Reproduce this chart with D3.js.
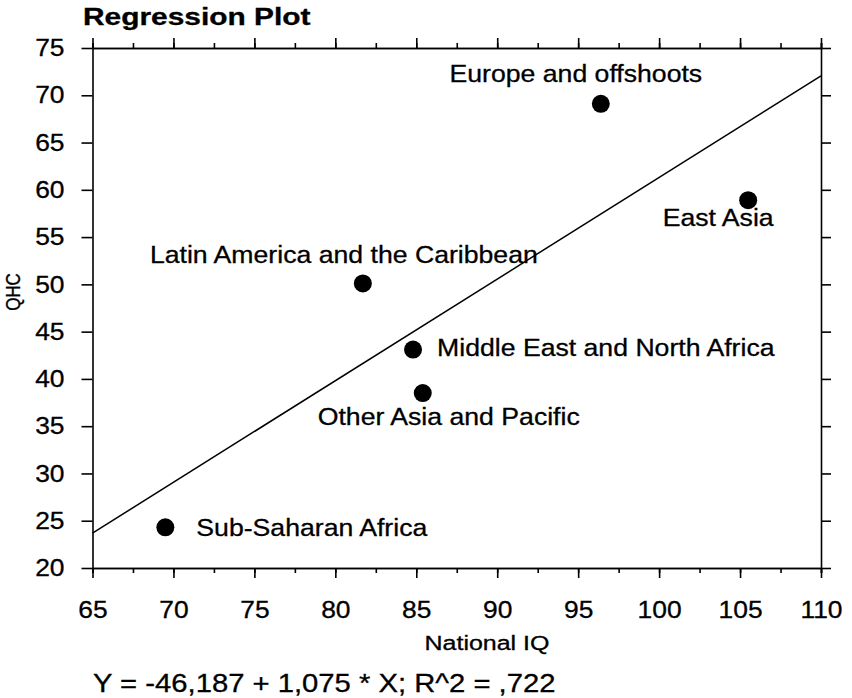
<!DOCTYPE html>
<html>
<head>
<meta charset="utf-8">
<script src="https://cdn.jsdelivr.net/npm/d3@7"></script>
<style>
  body { margin: 0; background: #fff; }
  svg text { font-family: "Liberation Sans", Arial, sans-serif; fill: #000; stroke: #000; stroke-width: 0.3px; }
</style>
</head>
<body>
<div id="chart"></div>
<script>
// data
const regions = ["Europe and offshoots", "East Asia", "Latin America and the Caribbean",
                 "Middle East and North Africa", "Other Asia and Pacific", "Sub-Saharan Africa"];
const nationalIQ = [96.4, 105.5, 81.7, 84.8, 85.4, 69.5];
const qhc = [69.1, 58.9, 50.1, 43.1, 38.5, 24.3];
const intercept = -46.187;
const slope = 1.075;
const equation = "Y = -46,187 + 1,075 * X; R^2 = ,722";
const xTicks = [65, 70, 75, 80, 85, 90, 95, 100, 105, 110];
const yTicks = [20, 25, 30, 35, 40, 45, 50, 55, 60, 65, 70, 75];

// label placement around each dot (layout only)
const labelPlace = [
    {dx: -25, dy: -22, anchor: "middle"},
    {dx: -30, dy: 26, anchor: "middle"},
    {dx: -19, dy: -20, anchor: "middle"},
    {dx: 24, dy: 6, anchor: "start"},
    {dx: 26, dy: 32, anchor: "middle"},
    {dx: 31, dy: 9, anchor: "start"}
];

const margin = {top: 48, right: 31, bottom: 130, left: 92.5};
const W = 852, H = 698;
const width = W - margin.left - margin.right;
const height = H - margin.top - margin.bottom;

const svg = d3.select("#chart").append("svg")
    .attr("width", W)
    .attr("height", H);

const g = svg.append("g")
    .attr("transform", "translate(" + margin.left + "," + margin.top + ")");

const x = d3.scaleLinear().domain([65, 110]).range([0, width]);
const y = d3.scaleLinear().domain([20, 75]).range([height, 0]);

// stretch text horizontally around its own x
function stretch(sel, sx) {
    sel.each(function () {
        let x0 = +d3.select(this).attr("x") || 0;
        d3.select(this).attr("transform", "translate(" + (x0 * (1 - sx)) + ",0) scale(" + sx + ",1)");
    });
}

const minorX = d3.range(65, 110.01, 2.5);

// bottom axis
g.append("g")
    .attr("transform", "translate(0," + height + ")")
    .call(d3.axisBottom(x).tickValues(minorX).tickSize(5).tickFormat(""));
const xAx = g.append("g")
    .attr("class", "x-axis")
    .attr("transform", "translate(0," + height + ")")
    .call(d3.axisBottom(x).tickValues(xTicks).tickSize(10).tickPadding(23).tickSizeOuter(0));

// top axis
g.append("g")
    .call(d3.axisTop(x).tickValues(minorX).tickSize(5).tickFormat(""));
g.append("g")
    .call(d3.axisTop(x).tickValues(xTicks).tickSize(10).tickFormat("").tickSizeOuter(0));

// left axis
const yAx = g.append("g")
    .attr("class", "y-axis")
    .call(d3.axisLeft(y).tickValues(yTicks).tickSize(11).tickPadding(17).tickSizeOuter(0));

// right axis
g.append("g")
    .attr("transform", "translate(" + width + ",0)")
    .call(d3.axisRight(y).tickValues(yTicks).tickSize(10).tickFormat("").tickSizeOuter(0));

g.selectAll(".domain").attr("stroke", "#000").attr("stroke-width", 1.6);
g.selectAll(".tick line").attr("stroke", "#000").attr("stroke-width", 1.6);
g.selectAll(".tick text").style("font-size", "24px").attr("fill", "#000");
stretch(xAx.selectAll(".tick text"), 1.1);
stretch(yAx.selectAll(".tick text"), 1.1);

// regression line
const line = d3.line().x(d => x(d)).y(d => y(intercept + slope * d));
g.append("path")
    .attr("d", line(x.domain()))
    .attr("fill", "none")
    .attr("stroke", "#000")
    .attr("stroke-width", 1.5);

// points
g.selectAll(".dot")
    .data(regions)
    .enter()
    .append("circle")
    .attr("class", "dot")
    .attr("cx", (d, i) => x(nationalIQ[i]))
    .attr("cy", (d, i) => y(qhc[i]))
    .attr("r", 9)
    .attr("fill", "#000");

// point labels
g.selectAll(".lbl")
    .data(regions)
    .enter()
    .append("g")
    .attr("class", "lbl")
    .attr("transform", (d, i) => "translate(" + (x(nationalIQ[i]) + labelPlace[i].dx) + "," + (y(qhc[i]) + labelPlace[i].dy) + ") scale(1.11,1)")
    .append("text")
    .attr("text-anchor", (d, i) => labelPlace[i].anchor)
    .style("font-size", "24px")
    .text(d => d);

// title
svg.append("text")
    .attr("transform", "translate(83,25) scale(1.3,1)")
    .style("font-size", "23px")
    .style("font-weight", "bold")
    .text("Regression Plot");

// axis titles
svg.append("text")
    .attr("transform", "translate(487,650) scale(1.25,1)")
    .attr("text-anchor", "middle")
    .style("font-size", "20px")
    .text("National IQ");

svg.append("text")
    .attr("transform", "translate(20,292) scale(1.2,1) rotate(-90)")
    .attr("text-anchor", "middle")
    .style("font-size", "17px")
    .text("QHC");

// equation
svg.append("text")
    .attr("transform", "translate(93,692) scale(1.17,1)")
    .style("font-size", "25px")
    .text(equation);
</script>
</body>
</html>
